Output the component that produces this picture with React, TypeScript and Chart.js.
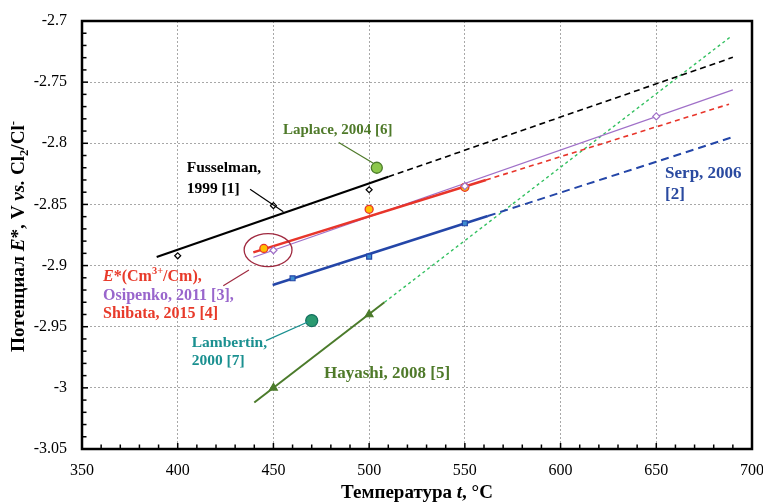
import React, { useEffect, useRef } from 'react';
import { Chart, registerables } from 'chart.js';
Chart.register(...registerables);

// ---- data ----
const xTickValues = [350, 400, 450, 500, 550, 600, 650, 700];
const yTickValues = [-3.05, -3.0, -2.95, -2.9, -2.85, -2.8, -2.75, -2.7];

const fusselmanSolid = [{ x: 389, y: -2.893 }, { x: 510, y: -2.8274 }];
const fusselmanDash = [{ x: 510, y: -2.8274 }, { x: 690, y: -2.7297 }];
const fusselmanPts = [{ x: 400, y: -2.892 }, { x: 450, y: -2.851 }, { x: 500, y: -2.838 }];

const cmSolid = [{ x: 439.5, y: -2.8892 }, { x: 561, y: -2.830 }];
const cmDash = [{ x: 561, y: -2.830 }, { x: 688, y: -2.768 }];
const shibataPts = [{ x: 445, y: -2.886 }, { x: 500, y: -2.854 }, { x: 550, y: -2.836 }];

const osipenkoLine = [{ x: 439.5, y: -2.8932 }, { x: 690, y: -2.7564 }];
const osipenkoPts = [{ x: 450, y: -2.8875 }, { x: 550, y: -2.835 }, { x: 650, y: -2.778 }];

const serpSolid = [{ x: 449.6, y: -2.9159 }, { x: 562, y: -2.8595 }];
const serpDash = [{ x: 562, y: -2.8595 }, { x: 690, y: -2.7949 }];
const serpPts = [{ x: 460, y: -2.9104 }, { x: 500, y: -2.8927 }, { x: 550, y: -2.8654 }];

const hayashiSolid = [{ x: 440, y: -3.012 }, { x: 508, y: -2.930 }];
const hayashiDot = [{ x: 508, y: -2.930 }, { x: 688.5, y: -2.7133 }];
const hayashiPts = [{ x: 450, y: -3.0 }, { x: 500, y: -2.94 }];

const laplacePts = [{ x: 504, y: -2.82 }];
const lambertinPts = [{ x: 470, y: -2.945 }];

// ---- styles ----
const SERIF = '"Liberation Serif", "Times New Roman", serif';
const C_RED = '#e8352a';
const C_PURPLE = '#a070c8';
const C_BLUE = '#2446a8';
const C_HAY = '#4b7b2b';
const C_HAYDOT = '#33c060';
const C_TEAL = '#1a9090';

type Seg = { t: string; i?: boolean; sub?: boolean; sup?: boolean; c?: string };

function drawRich(ctx: CanvasRenderingContext2D, segs: Seg[], x: number, y: number, size: number, color: string, align: 'left' | 'center') {
  const fontFor = (s: Seg) => {
    const sz = s.sub || s.sup ? size * 0.65 : size;
    return `${s.i ? 'italic ' : ''}bold ${sz}px ${SERIF}`;
  };
  let w = 0;
  const ws: number[] = [];
  for (const s of segs) {
    ctx.font = fontFor(s);
    const m = ctx.measureText(s.t).width;
    ws.push(m);
    w += m;
  }
  let cx = align === 'center' ? x - w / 2 : x;
  ctx.textBaseline = 'middle';
  ctx.textAlign = 'left';
  segs.forEach((s, k) => {
    ctx.font = fontFor(s);
    ctx.fillStyle = s.c || color;
    const dy = s.sub ? size * 0.3 : s.sup ? -size * 0.32 : 0;
    ctx.fillText(s.t, cx, y + dy);
    cx += ws[k];
  });
}

type Label = { x: number; y: number; lines: Seg[][]; color: string; size: number; gap: number };
const labels: Label[] = [
  { x: 455, y: -2.7891, lines: [[{ t: 'Laplace, 2004 [6]' }]], color: '#4f7a2a', size: 15, gap: 0 },
  { x: 404.7, y: -2.8205, lines: [[{ t: 'Fusselman,' }], [{ t: '1999 [1]' }]], color: '#000', size: 15.5, gap: 20.5 },
  { x: 654.6, y: -2.8246, lines: [[{ t: 'Serp, 2006' }], [{ t: '[2]' }]], color: '#2a4aa0', size: 17, gap: 21 },
  {
    x: 361, y: -2.9091, lines: [
      [{ t: 'E', i: true }, { t: '*(Cm' }, { t: '3+', sup: true }, { t: '/Cm),' }],
      [{ t: 'Osipenko, 2011 [3],', c: '#9966cc' }],
      [{ t: 'Shibata, 2015 [4]' }],
    ], color: '#e83a2a', size: 16, gap: 18.8,
  },
  { x: 407.3, y: -2.963, lines: [[{ t: 'Lambertin,' }], [{ t: '2000 [7]' }]], color: C_TEAL, size: 15.5, gap: 18 },
  { x: 476.4, y: -2.9887, lines: [[{ t: 'Hayashi, 2008 [5]' }]], color: '#4f7a2a', size: 17, gap: 0 },
];

type Leader = { x1: number; y1: number; x2: number; y2: number; color: string };
const leaders: Leader[] = [
  { x1: 484.1, y1: -2.7993, x2: 502.2, y2: -2.8164, color: '#4f7a2a' },
  { x1: 437.8, y1: -2.8376, x2: 455.2, y2: -2.8559, color: '#000' },
  { x1: 446.1, y1: -2.9614, x2: 468.2, y2: -2.9459, color: C_TEAL },
  { x1: 437.2, y1: -2.9036, x2: 423.8, y2: -2.9165, color: '#a02a40' },
];
const ellipse = { x: 447.2, y: -2.8873, rx: 12.5, ry: 0.0135, color: '#a02a40' };

const decorPlugin = {
  id: 'decor',
  afterDatasetsDraw(chart: any) {
    const { ctx, chartArea: a, scales } = chart;
    const xs = scales.x, ys = scales.y;
    const px = (v: number) => xs.getPixelForValue(v);
    const py = (v: number) => ys.getPixelForValue(v);
    ctx.save();
    // leaders
    for (const l of leaders) {
      ctx.beginPath();
      ctx.strokeStyle = l.color;
      ctx.lineWidth = 1.2;
      ctx.moveTo(px(l.x1), py(l.y1));
      ctx.lineTo(px(l.x2), py(l.y2));
      ctx.stroke();
    }
    // ellipse
    ctx.beginPath();
    ctx.strokeStyle = ellipse.color;
    ctx.lineWidth = 1.3;
    const cx = px(ellipse.x), cy = py(ellipse.y);
    ctx.ellipse(cx, cy, Math.abs(px(ellipse.x + ellipse.rx) - cx), Math.abs(py(ellipse.y + ellipse.ry) - cy), 0, 0, Math.PI * 2);
    ctx.stroke();
    // labels
    for (const lb of labels) {
      lb.lines.forEach((ln, k) => {
        drawRich(ctx, ln, px(lb.x), py(lb.y) + k * lb.gap, lb.size, lb.color, 'left');
      });
    }
    // minor ticks
    ctx.strokeStyle = '#000';
    ctx.lineWidth = 1.5;
    for (let v = 350; v <= 700; v += 10) {
      const X = px(v);
      ctx.beginPath();
      ctx.moveTo(X, a.bottom);
      ctx.lineTo(X, a.bottom - (v % 50 === 0 ? 6 : 4.5));
      ctx.stroke();
    }
    for (let k = 0; k <= 35; k++) {
      const Y = py(-3.05 + k * 0.01);
      ctx.beginPath();
      ctx.moveTo(a.left, Y);
      ctx.lineTo(a.left + (k % 5 === 0 ? 6 : 4.5), Y);
      ctx.stroke();
    }
    // frame
    ctx.strokeStyle = '#000';
    ctx.lineWidth = 2.5;
    ctx.strokeRect(a.left, a.top, a.right - a.left, a.bottom - a.top);
    // axis titles
    drawRich(ctx, [{ t: 'Температура ' }, { t: 't', i: true }, { t: ', °C' }], (a.left + a.right) / 2, 493, 19, '#000', 'center');
    ctx.save();
    ctx.translate(19.5, 236.5);
    ctx.rotate(-Math.PI / 2);
    drawRich(ctx, [
      { t: 'Потенциал ' }, { t: 'E', i: true }, { t: '*, V ' }, { t: 'vs.', i: true }, { t: ' Cl' }, { t: '2', sub: true }, { t: '/Cl' }, { t: '-', sup: true },
    ], 0, 0, 19.2, '#000', 'center');
    ctx.restore();
    ctx.restore();
  },
};

function line(data: any[], color: string, width: number, dash: number[] = []) {
  return { data, borderColor: color, borderWidth: width, borderDash: dash, pointRadius: 0, showLine: true, fill: false, tension: 0 };
}
function pts(data: any[], style: string, r: number, fill: string, stroke: string, bw = 1.2) {
  return { data, showLine: false, pointStyle: style, pointRadius: r, pointBackgroundColor: fill, pointBorderColor: stroke, pointBorderWidth: bw, borderColor: stroke, backgroundColor: fill };
}

export default function App() {
  const ref = useRef<HTMLCanvasElement>(null);
  useEffect(() => {
    if (!ref.current) return;
    const chart = new Chart(ref.current, {
      type: 'scatter',
      data: {
        datasets: [
          pts(laplacePts, 'circle', 5.5, '#8cc84b', '#4b7b2b', 1.3),
          pts(lambertinPts, 'circle', 6, '#2a9a70', '#157060', 1.3),
          pts(fusselmanPts, 'rectRot', 3, '#ffffff', '#000000'),
          pts(osipenkoPts, 'rectRot', 3.5, '#ffffff', C_PURPLE),
          pts(shibataPts, 'circle', 4, '#ffc000', C_RED, 1.3),
          pts(serpPts, 'rect', 3.5, '#3e8ed0', C_BLUE),
          pts(hayashiPts, 'triangle', 4.5, C_HAY, C_HAY),
          line(fusselmanSolid, '#000', 2.2),
          line(cmSolid, C_RED, 2.5),
          line(serpSolid, C_BLUE, 2.5),
          line(hayashiSolid, C_HAY, 2),
          line(osipenkoLine, C_PURPLE, 1.3),
          line(fusselmanDash, '#000', 1.6, [6, 4]),
          line(cmDash, C_RED, 1.6, [5, 4]),
          line(serpDash, C_BLUE, 2, [8, 5]),
          line(hayashiDot, C_HAYDOT, 1.4, [3, 3]),
        ] as any,
      },
      options: {
        animation: false,
        responsive: false,
        layout: { padding: { top: 21, right: 11, left: 0, bottom: 0 } },
        plugins: { legend: { display: false }, tooltip: { enabled: false } },
        scales: {
          x: {
            type: 'linear', min: 350, max: 700,
            afterBuildTicks: (s: any) => { s.ticks = xTickValues.map((v) => ({ value: v })); },
            afterFit: (s: any) => { s.height = 53; s.paddingLeft = 0; s.paddingRight = 0; },
            ticks: { color: '#000', font: { family: SERIF, size: 16 }, padding: 12, maxRotation: 0 },
            grid: { color: '#a8a8a8', lineWidth: 1, drawTicks: false },
            border: { display: false, dash: [2, 2] },
          },
          y: {
            type: 'linear', min: -3.05, max: -2.7,
            afterBuildTicks: (s: any) => { s.ticks = yTickValues.map((v) => ({ value: v })); },
            afterFit: (s: any) => { s.width = 82; s.paddingTop = 0; s.paddingBottom = 0; },
            ticks: { color: '#000', font: { family: SERIF, size: 16 }, padding: 15, callback: (v: any) => String(Number(Number(v).toFixed(2))) },
            grid: { color: '#a8a8a8', lineWidth: 1, drawTicks: false },
            border: { display: false, dash: [2, 2] },
          },
        },
      } as any,
      plugins: [decorPlugin],
    });
    return () => chart.destroy();
  }, []);
  return (
    <div style={{ position: 'absolute', left: 0, top: 0, width: 763, height: 502, background: '#fff' }}>
      <canvas ref={ref} width={763} height={502} />
    </div>
  );
}
